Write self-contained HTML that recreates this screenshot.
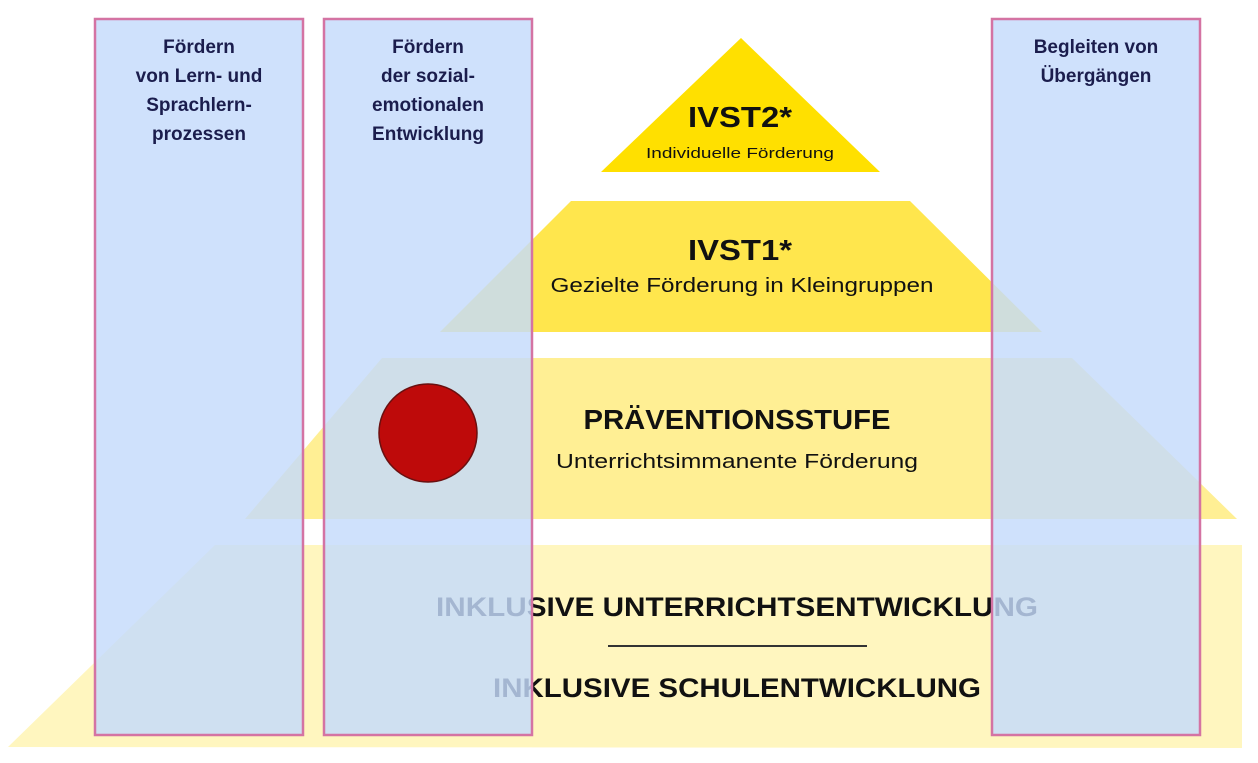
<!DOCTYPE html>
<html><head><meta charset="utf-8"><style>
html,body{margin:0;padding:0;background:#fff;}
svg{display:block;font-family:"Liberation Sans",sans-serif;}
</style></head><body>
<svg width="1258" height="763" viewBox="0 0 1258 763" xmlns="http://www.w3.org/2000/svg">
<polygon points="8,747 215,545 1242,545 1242,748" fill="#FFF6BF"/>
<polygon points="245,519 382,358 1072,358 1237,519" fill="#FFEF94"/>
<polygon points="440,332 571,201 910,201 1042,332" fill="#FFE64D"/>
<polygon points="601,172 741,38 880,172" fill="#FFE000"/>
<g font-weight="bold" fill="#111" text-anchor="middle">
<text x="740" y="127" font-size="29" textLength="104" lengthAdjust="spacingAndGlyphs">IVST2*</text>
<text x="740" y="260" font-size="29" textLength="104" lengthAdjust="spacingAndGlyphs">IVST1*</text>
<text x="737" y="429" font-size="28" textLength="307" lengthAdjust="spacingAndGlyphs">PRÄVENTIONSSTUFE</text>
<text x="737" y="616" font-size="27" textLength="602" lengthAdjust="spacingAndGlyphs">INKLUSIVE UNTERRICHTSENTWICKLUNG</text>
<text x="737" y="697" font-size="27" textLength="488" lengthAdjust="spacingAndGlyphs">INKLUSIVE SCHULENTWICKLUNG</text>
</g>
<g fill="#111" text-anchor="middle">
<text x="740" y="158" font-size="15" textLength="188" lengthAdjust="spacingAndGlyphs">Individuelle Förderung</text>
<text x="742" y="292" font-size="20" textLength="383" lengthAdjust="spacingAndGlyphs">Gezielte Förderung in Kleingruppen</text>
<text x="737" y="468" font-size="20" textLength="362" lengthAdjust="spacingAndGlyphs">Unterrichtsimmanente Förderung</text>
</g>
<line x1="608" y1="646" x2="867" y2="646" stroke="#333" stroke-width="2"/>
<g fill="#C5DBFB" fill-opacity="0.82" stroke="#D473A3" stroke-width="2.5">
<rect x="95" y="19" width="208" height="716"/>
<rect x="324" y="19" width="208" height="716"/>
<rect x="992" y="19" width="208" height="716"/>
</g>
<g fill="#1B1D4D" font-weight="bold" font-size="19" text-anchor="middle">
<text x="199" y="53">Fördern</text>
<text x="199" y="82">von Lern- und</text>
<text x="199" y="111">Sprachlern-</text>
<text x="199" y="140">prozessen</text>
<text x="428" y="53">Fördern</text>
<text x="428" y="82">der sozial-</text>
<text x="428" y="111">emotionalen</text>
<text x="428" y="140">Entwicklung</text>
<text x="1096" y="53">Begleiten von</text>
<text x="1096" y="82">Übergängen</text>
</g>
<circle cx="428" cy="433" r="49" fill="#BE0A0A" stroke="#6a1010" stroke-width="1.5"/>
</svg>
</body></html>
